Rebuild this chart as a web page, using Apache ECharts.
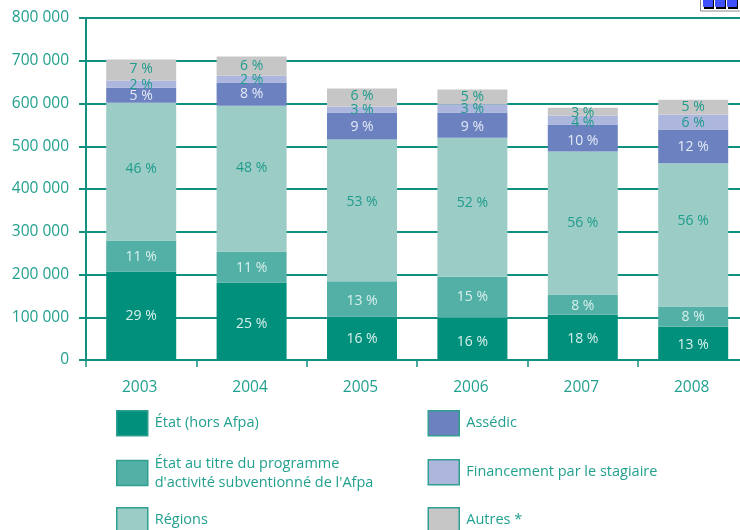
<!DOCTYPE html>
<html><head><meta charset="utf-8">
<style>html,body{margin:0;padding:0;background:#fff;overflow:hidden}#c{width:740px;height:530px}</style>
<script src="https://cdn.jsdelivr.net/npm/echarts@6/dist/echarts.min.js"></script></head>
<body><div id="c"></div>
<script>
const years = ['2003','2004','2005','2006','2007','2008'];
const etat = [207,181,102,99,106,78];
const programme = [72.5,73,82,96,47,47];
const regions = [322.5,341,332,325,335,335];
const assedic = [35,54,63,59,63,79];
const stagiaire = [17,16,14,19,21,35];
const autres = [49,45,42,35,18,35];
const pctEtat = ['29 %','25 %','16 %','16 %','18 %','13 %'];
const pctProgramme = ['11 %','11 %','13 %','15 %','8 %','8 %'];
const pctRegions = ['46 %','48 %','53 %','52 %','56 %','56 %'];
const pctAssedic = ['5 %','8 %','9 %','9 %','10 %','12 %'];
const pctStagiaire = ['2 %','2 %','3 %','3 %','4 %','6 %'];
const pctAutres = ['7 %','6 %','6 %','5 %','3 %','5 %'];
const names = ['État (hors Afpa)',"État au titre du programme\nd'activité subventionné de l'Afpa",'Régions','Assédic','Financement par le stagiaire','Autres *'];
const colors = ['#00907c','#53b0a6','#9bccc6','#6c82c0','#adb6dc','#c6c6c6'];
const labelColors = ['#d8f0ec','#d8f0ec','#1f9c8c','#e4e9f6','#1f9c8c','#1f9c8c'];
const TEXT = '#22a08f', LINE = '#109080', FONT = '"Open Sans", "Noto Sans", sans-serif';
const vals = [etat,programme,regions,assedic,stagiaire,autres];
const pcts = [pctEtat,pctProgramme,pctRegions,pctAssedic,pctStagiaire,pctAutres];
const legendPos = [[116,410],[116,453],[116,507],[427.5,410],[427.5,459],[427.5,507]];
// hand-placed label shifts in the reference (px, by series then year)
const nudges = [[0,3,1,3,2,2],[1,1,2,0,1,0],[-3,-11,-8,-4,0,-14],[1,0,1,2,3,1],[1,1,1,1,3,1],[-1,0,-1,0,1,0]];
const chart = echarts.init(document.getElementById('c'), null, {renderer:'canvas'});
chart.setOption({
  animation:false,
  backgroundColor:'#fff',
  textStyle:{fontFamily:FONT},
  grid:{left:86,top:18,width:662.4,height:342,containLabel:false,outerBoundsMode:'none'},
  legend:names.map((n,i)=>({
    data:[n],left:legendPos[i][0],top:legendPos[i][1],padding:0,icon:'rect',
    itemWidth:31,itemHeight:25,selectedMode:false,
    itemStyle:{borderColor:'#2f9f90',borderWidth:1.5},
    textStyle:{color:TEXT,fontSize:14.5,fontFamily:FONT,lineHeight:19,padding:[2,0,0,2]}
  })),
  xAxis:{type:'category',data:years,
    axisLine:{lineStyle:{color:LINE,width:2}},
    axisTick:{show:true,length:7,alignWithLabel:false,lineStyle:{color:LINE,width:1.5}},
    axisLabel:{color:TEXT,fontSize:15.5,margin:20,fontFamily:FONT,padding:[0,3,0,0]}},
  yAxis:{type:'value',min:0,max:800,interval:100,
    axisLine:{show:true,lineStyle:{color:LINE,width:2}},
    axisTick:{show:true,length:7,lineStyle:{color:LINE,width:2}},
    axisLabel:{color:TEXT,fontSize:15.5,margin:17,fontFamily:FONT,padding:[4,0,0,0],
      formatter:v=>v===0?'0':(v+' 000')},
    splitLine:{show:true,lineStyle:{color:LINE,width:2}}},
  series:names.map((n,i)=>({
    name:n,type:'bar',stack:'t',barWidth:70,z:3,
    itemStyle:{color:colors[i]},
    data:vals[i].map((v,j)=>({value:v,label:{offset:[0,nudges[i][j]]}})),
    label:{show:true,position:'inside',color:labelColors[i],fontSize:14,fontFamily:FONT,
      formatter:p=>pcts[i][p.dataIndex]}
  })),
  graphic:[
    {type:'rect',shape:{x:700.5,y:-2,width:42,height:13},style:{fill:'#fff',stroke:'#8a8a8a',lineWidth:1},z:10},
    ...[703,715,727].flatMap(x=>[
      {type:'rect',shape:{x:x+1,y:-2,width:10,height:11},style:{fill:'#000'},z:11},
      {type:'rect',shape:{x:x,y:-2,width:10,height:9,r:1},style:{fill:'#3f50ff'},z:12}
    ])
  ]
});
</script></body></html>
